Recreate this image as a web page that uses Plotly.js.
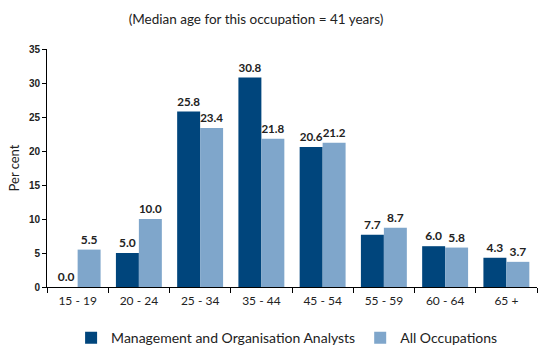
<!DOCTYPE html>
<html><head><meta charset="utf-8">
<script src="https://cdn.plot.ly/plotly-3.0.1.min.js"></script>
<style>html,body{margin:0;padding:0;background:#fff;}</style>
</head><body><div id="chart" style="width:547px;height:354px;"></div>
<script>
const categories = ["15 - 19","20 - 24","25 - 34","35 - 44","45 - 54","55 - 59","60 - 64","65 +"];
const analysts = [0.0, 5.0, 25.8, 30.8, 20.6, 7.7, 6.0, 4.3];
const allOcc = [5.5, 10.0, 23.4, 21.8, 21.2, 8.7, 5.8, 3.7];
const yTicks = [0,5,10,15,20,25,30,35];

const fam = "Lato, 'Open Sans', sans-serif";
const labelFont = {family: fam, size: 12, color: "#222"};
const traces = [
  {type:"bar", name:"Management and Organisation Analysts", x:categories, y:analysts,
   marker:{color:"#00457C"}, texttemplate:"<b>%{y:.1f}</b>", textposition:"outside",
   textfont:labelFont, cliponaxis:false, hoverinfo:"skip"},
  {type:"bar", name:"All Occupations", x:categories, y:allOcc,
   marker:{color:"#7FA6CB"}, texttemplate:"<b>%{y:.1f}</b>", textposition:"outside",
   textfont:labelFont, cliponaxis:false, hoverinfo:"skip"}
];
const layout = {
  width:547, height:354,
  margin:{l:47, r:10, t:49, b:67, autoexpand:false},
  paper_bgcolor:"#fff", plot_bgcolor:"#fff",
  title:{text:"(Median age for this occupation = 41 years)", x:0.468, xanchor:"center", y:0.945, yanchor:"middle",
    font:{family:fam, size:13.5, color:"#222"}},
  barmode:"group", bargap:0.25, bargroupgap:0,
  xaxis:{type:"category", showline:true, linecolor:"#000", linewidth:1, ticks:"outside", tickson:"boundaries",
    ticklen:5, tickcolor:"#000", showgrid:false, zeroline:false, ticklabelstandoff:3,
    tickfont:{family:fam, size:12, color:"#222"}},
  yaxis:{range:[0,35], tickvals:yTicks, showline:true, linecolor:"#000", linewidth:1, ticks:"outside",
    ticklen:4, tickcolor:"#000", showgrid:false, zeroline:false,
    tickfont:{family:"'Liberation Sans Narrow', 'Arial Narrow', 'Liberation Sans', sans-serif", size:10, color:"#222", weight:"bold"},
    title:{text:"Per cent", standoff:6, font:{family:fam, size:13, color:"#222"}}},
  showlegend:true,
  legend:{orientation:"h", x:0.49, xanchor:"center", y:-0.215, yanchor:"middle",
    font:{family:fam, size:14, color:"#222"}, itemwidth:30, traceorder:"normal"}
};
Plotly.newPlot("chart", traces, layout, {displayModeBar:false, staticPlot:true});
</script></body></html>
